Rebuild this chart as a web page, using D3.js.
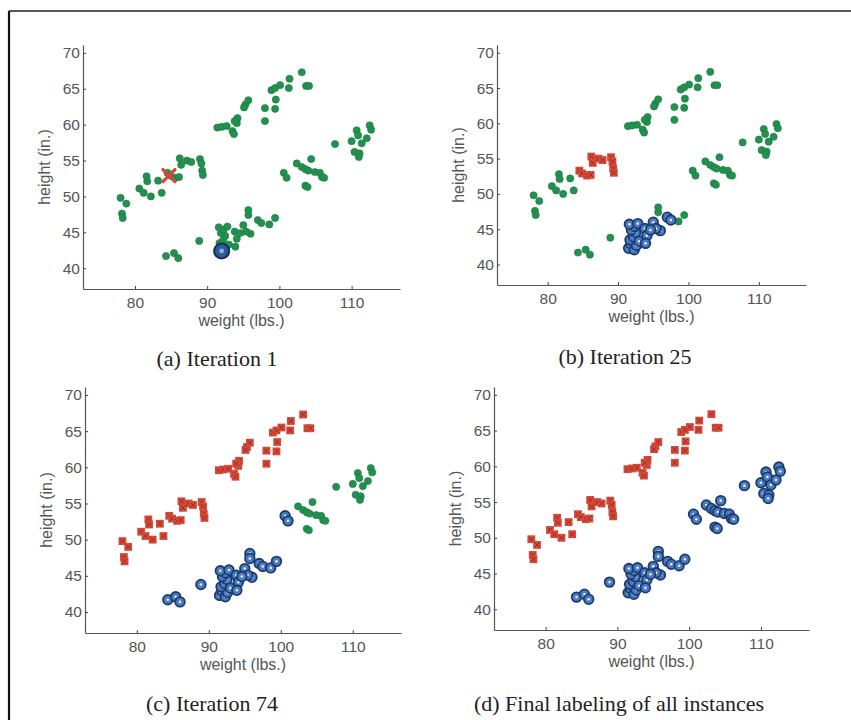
<!DOCTYPE html>
<html>
<head>
<meta charset="utf-8">
<script src="https://cdn.jsdelivr.net/npm/d3@7"></script>
<style>
  body { margin: 0; background: #fff; }
  svg { display: block; }
</style>
</head>
<body>
<script>
window.document.addEventListener('DOMContentLoaded', init, false);

// point groups (weight lbs, height in.)
var groupNames = ['A1', 'A2', 'B', 'C1', 'C2', 'D1', 'D2'];

var weightsA1 = [84.5, 84.9, 85.6, 86.2, 86.4, 86.1, 87.2, 87.8, 89.0, 89.2, 89.3, 89.4];
var heightsA1 = [53.3, 52.9, 52.6, 55.3, 54.4, 52.7, 55.0, 54.8, 55.2, 54.6, 53.6, 53.0];

var weightsA2 = [78.0, 78.8, 78.2, 78.3, 80.6, 81.2, 81.6, 81.7, 82.2, 83.2, 83.7];
var heightsA2 = [49.8, 49.0, 47.6, 47.0, 51.1, 50.5, 52.8, 52.1, 50.0, 52.2, 50.5];

var weightsB = [91.4, 92.0, 92.7, 93.5, 93.7, 94.2, 94.1, 93.8, 95.3, 95.7, 95.1, 98.0,
                98.0, 98.9, 99.4, 99.5, 99.4, 100.1, 101.4, 101.3, 103.1, 103.7, 104.1];
var heightsB = [59.6, 59.7, 59.8, 59.1, 58.7, 60.9, 60.2, 60.5, 62.8, 63.4, 62.4, 62.3,
                60.5, 64.8, 65.1, 63.5, 62.2, 65.5, 66.4, 65.1, 67.3, 65.4, 65.4];

var weightsC1 = [92.0, 91.5, 91.8, 92.3, 92.6, 91.7, 92.2, 92.5, 91.9, 92.3, 91.6, 93.0,
                 92.8, 93.8, 94.1, 93.9, 95.0, 96.0, 95.4, 97.0, 97.5, 94.6];
var heightsC1 = [42.5, 42.3, 42.9, 42.1, 42.7, 43.5, 43.9, 44.5, 44.9, 45.4, 45.7, 43.3,
                 45.8, 45.1, 44.1, 43.0, 46.0, 44.8, 45.1, 46.7, 46.3, 44.9];

var weightsC2 = [84.3, 85.4, 86.0, 88.9, 95.7, 95.7, 98.6, 99.4];
var heightsC2 = [41.7, 42.1, 41.4, 43.8, 48.1, 47.4, 46.1, 47.0];

var weightsD1 = [100.6, 101.0];
var heightsD1 = [53.3, 52.6];

var weightsD2 = [102.4, 103.1, 103.6, 104.4, 104.0, 104.9, 105.6, 105.9, 103.6, 103.9, 107.7,
                 110.0, 110.7, 110.9, 110.4, 111.1, 111.4, 112.1, 112.5, 112.7, 111.0, 106.2];
var heightsD2 = [54.6, 54.1, 53.8, 55.2, 53.6, 53.4, 53.3, 52.7, 51.5, 51.3, 57.3,
                 57.7, 59.2, 58.5, 56.2, 56.0, 57.4, 58.1, 59.9, 59.3, 55.5, 52.6];

// class of each group (same order as groupNames) in every panel
var iter1Classes = ['green', 'green', 'green', 'green', 'green', 'green', 'green'];
var iter25Classes = ['red', 'green', 'green', 'blue', 'green', 'green', 'green'];
var iter74Classes = ['red', 'red', 'red', 'blue', 'blue', 'blue', 'green'];
var finalClasses = ['red', 'red', 'red', 'blue', 'blue', 'blue', 'blue'];

// seed instances shown in iteration 1
var seedWeights = [84.7, 92.0];
var seedHeights = [52.9, 42.4];
var seedClasses = ['red', 'blue'];

var captions = ['(a) Iteration 1', '(b) Iteration 25', '(c) Iteration 74', '(d) Final labeling of all instances'];

var xTicks = [80, 90, 100, 110];
var yTicks = [40, 45, 50, 55, 60, 65, 70];

var weightGroups = [weightsA1, weightsA2, weightsB, weightsC1, weightsC2, weightsD1, weightsD2];
var heightGroups = [heightsA1, heightsA2, heightsB, heightsC1, heightsC2, heightsD1, heightsD2];

// panel boxes on the page
var layout = [
    { left: 83, top: 45, w: 317, h: 244, capX: 217, capY: 366 },
    { left: 497, top: 45, w: 309, h: 240, capX: 625, capY: 364 },
    { left: 85, top: 387, w: 316, h: 246, capX: 212, capY: 711 },
    { left: 494, top: 387, w: 315, h: 243, capX: 619, capY: 711 }
];

function init() {
    var svg = d3.select('body').append('svg')
        .attr('width', 851)
        .attr('height', 720);

    svg.append('rect').attr('width', 851).attr('height', 720).attr('fill', '#fff');

    // scan frame
    svg.append('line').attr('x1', 9).attr('y1', 11).attr('x2', 851).attr('y2', 11)
        .attr('stroke', '#222').attr('stroke-width', 1.5);
    svg.append('line').attr('x1', 9).attr('y1', 11).attr('x2', 9).attr('y2', 720)
        .attr('stroke', '#111').attr('stroke-width', 2.2);

    var classSets = [iter1Classes, iter25Classes, iter74Classes, finalClasses];

    layout.forEach(function (box, i) {
        drawPanel(svg, box, classSets[i], i === 0);
        svg.append('text')
            .attr('x', box.capX)
            .attr('y', box.capY)
            .attr('text-anchor', 'middle')
            .attr('font-family', 'Liberation Serif, serif')
            .attr('font-size', 22)
            .attr('fill', '#222')
            .text(captions[i]);
    });
}

function buildPoints(classes) {
    var pts = [];
    groupNames.forEach(function (g, gi) {
        weightGroups[gi].forEach(function (w, k) {
            pts.push({ w: w, h: heightGroups[gi][k], cls: classes[gi] });
        });
    });
    return pts;
}

function drawPanel(svg, box, classes, showSeeds) {
    var x = d3.scaleLinear().domain([72.8, 116.7]).range([0, box.w]);
    var y = d3.scaleLinear().domain([37.1, 71.1]).range([box.h, 0]);

    var g = svg.append('g').attr('transform', `translate(${box.left}, ${box.top})`);

    var xAxis = d3.axisBottom(x).tickValues(xTicks).tickSizeInner(-3).tickSizeOuter(0).tickPadding(8);
    var yAxis = d3.axisLeft(y).tickValues(yTicks).tickSizeInner(-3).tickSizeOuter(0).tickPadding(5);

    var gx = g.append('g').attr('transform', `translate(0, ${box.h})`).call(xAxis);
    var gy = g.append('g').call(yAxis);

    [gx, gy].forEach(function (a) {
        a.select('.domain').attr('stroke', '#555').attr('stroke-width', 1.2);
        a.selectAll('.tick line').attr('stroke', '#444');
        a.selectAll('.tick text')
            .attr('font-family', 'Liberation Sans, Arial, sans-serif')
            .attr('font-size', 15.5)
            .attr('fill', '#555');
    });
    gy.selectAll('.tick text').attr('dx', '2');

    g.append('text')
        .attr('x', box.w / 2)
        .attr('y', box.h + 37)
        .attr('text-anchor', 'middle')
        .attr('font-family', 'Liberation Sans, Arial, sans-serif')
        .attr('font-size', 16)
        .attr('fill', '#555')
        .text('weight (lbs.)');

    g.append('text')
        .attr('transform', `translate(-33, ${box.h / 2}) rotate(-90)`)
        .attr('text-anchor', 'middle')
        .attr('font-family', 'Liberation Sans, Arial, sans-serif')
        .attr('font-size', 16)
        .attr('fill', '#555')
        .text('height (in.)');

    var pts = buildPoints(classes);

    // green dots
    g.selectAll('.dot')
        .data(pts.filter(function (d) { return d.cls === 'green'; }))
        .enter().append('circle')
        .attr('class', 'dot')
        .attr('cx', function (d) { return x(d.w); })
        .attr('cy', function (d) { return y(d.h); })
        .attr('r', 3.6)
        .attr('fill', '#22914f')
        .attr('stroke', '#1a7a42')
        .attr('stroke-width', 0.6);

    // red squares
    var reds = g.selectAll('.sq')
        .data(pts.filter(function (d) { return d.cls === 'red'; }))
        .enter().append('g')
        .attr('class', 'sq')
        .attr('transform', function (d) { return `translate(${x(d.w)}, ${y(d.h)})`; });
    reds.append('rect')
        .attr('x', -3.9).attr('y', -3.9).attr('width', 7.8).attr('height', 7.8)
        .attr('fill', '#d24a3a');
    reds.append('path')
        .attr('d', 'M-2.4,-2.4L2.4,2.4M-2.4,2.4L2.4,-2.4')
        .attr('stroke', '#a5281f')
        .attr('stroke-width', 1);

    // blue circles
    var blues = g.selectAll('.ring')
        .data(pts.filter(function (d) { return d.cls === 'blue'; }))
        .enter().append('g')
        .attr('class', 'ring')
        .attr('transform', function (d) { return `translate(${x(d.w)}, ${y(d.h)})`; });
    blues.append('circle')
        .attr('r', 4.8)
        .attr('fill', '#4a7cc3')
        .attr('stroke', '#1d3a6e')
        .attr('stroke-width', 1.8);
    blues.append('circle')
        .attr('r', 1.3)
        .attr('fill', '#e6eef8');

    if (showSeeds) {
        seedWeights.forEach(function (w, k) {
            var sx = x(w), sy = y(seedHeights[k]);
            if (seedClasses[k] === 'red') {
                g.append('path')
                    .attr('d', `M${sx - 6},${sy - 6}L${sx + 6},${sy + 6}M${sx - 6},${sy + 6}L${sx + 6},${sy - 6}`)
                    .attr('stroke', '#cf4a38')
                    .attr('stroke-width', 3.4)
                    .attr('stroke-linecap', 'round');
            } else {
                g.append('circle')
                    .attr('cx', sx).attr('cy', sy).attr('r', 7.5)
                    .attr('fill', '#2e5b9c')
                    .attr('stroke', '#1a2d58')
                    .attr('stroke-width', 2);
                g.append('circle')
                    .attr('cx', sx).attr('cy', sy).attr('r', 2.4)
                    .attr('fill', '#8fb2de');
            }
        });
    }
}
</script>
</body>
</html>
